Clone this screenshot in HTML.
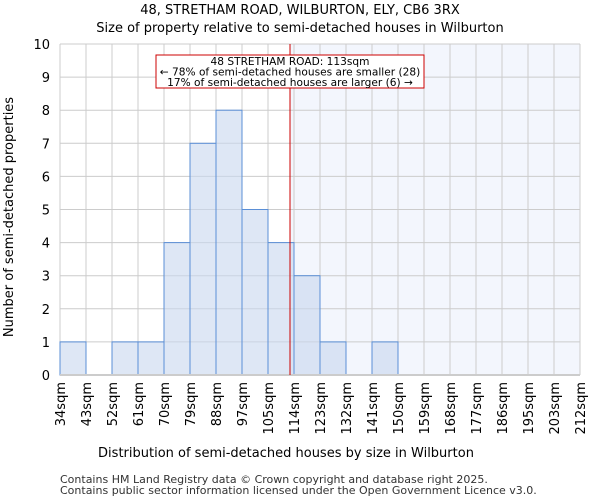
<!DOCTYPE html>
<html><head><meta charset="utf-8"><style>
body{margin:0;background:#fff;font-family:"DejaVu Sans","Liberation Sans",sans-serif}
</style></head><body>
<svg width="600" height="500" xmlns="http://www.w3.org/2000/svg" font-family="DejaVu Sans, Liberation Sans, sans-serif">
<text x="300" y="14" text-anchor="middle" font-size="13">48, STRETHAM ROAD, WILBURTON, ELY, CB6 3RX</text>
<text x="300" y="32" text-anchor="middle" font-size="13">Size of property relative to semi-detached houses in Wilburton</text>
<g id="plot"></g>
<text x="286" y="457" text-anchor="middle" font-size="13">Distribution of semi-detached houses by size in Wilburton</text>
<text transform="translate(13,217) rotate(-90)" text-anchor="middle" font-size="13">Number of semi-detached properties</text>
<text x="60" y="483" font-size="11" fill="#333">Contains HM Land Registry data © Crown copyright and database right 2025.</text>
<text x="60" y="494" font-size="11" fill="#333">Contains public sector information licensed under the Open Government Licence v3.0.</text>
</svg>
<script>
const binLabels=["34sqm","43sqm","52sqm","61sqm","70sqm","79sqm","88sqm","97sqm","105sqm","114sqm","123sqm","132sqm","141sqm","150sqm","159sqm","168sqm","177sqm","186sqm","195sqm","203sqm","212sqm"];
const counts=[1,0,1,1,4,7,8,5,4,3,1,0,1,0,0,0,0,0,0,0];
const yTicks=[0,1,2,3,4,5,6,7,8,9,10];
const propertyBin=9.0;
const NS="http://www.w3.org/2000/svg";
const L=60,R=580,T=44,B=375,nb=counts.length;
const xs=i=>L+(R-L)*i/nb;
const ys=v=>B-(B-T)*v/10;
const g=document.getElementById('plot');
function mk(t,a,p){const e=document.createElementNS(NS,t);for(const k in a)e.setAttribute(k,a[k]);(p||g).appendChild(e);return e;}
const px=xs(propertyBin)-4;
let sh=mk('rect',{x:px,y:T,width:R-px,height:B-T,fill:'#f3f6fd'});


yTicks.forEach(v=>{
 let l=mk('line',{x1:L,x2:R,y1:ys(v),y2:ys(v),stroke:'#ccc'});
 
 
 let t=mk('text',{x:L-10,y:ys(v)+5,'text-anchor':'end','font-size':13});
 t.textContent=v;
 
 
});
binLabels.forEach((s,i)=>{
 let l=mk('line',{x1:xs(i),x2:xs(i),y1:T,y2:B,stroke:'#ccc'});
 
 
 let t=mk('text',{transform:`translate(${xs(i)+5},382) rotate(-90)`,'text-anchor':'end','font-size':13});
 t.textContent=s;
 
 
});
counts.forEach((c,i)=>{
 if(!c)return;
 let r=mk('rect',{x:xs(i),y:ys(c),width:xs(i+1)-xs(i),height:B-ys(c),fill:'rgba(200,215,238,0.6)',stroke:'#5b8fd6','stroke-width':1});
 
 
});
let ax=mk('line',{x1:L,x2:R,y1:B,y2:B,stroke:'#ccc','stroke-width':2});


let rl=mk('line',{x1:px,x2:px,y1:T,y2:B,stroke:'#c00','stroke-width':1});


let bx=mk('rect',{x:156,y:55,width:268,height:33,fill:'#fff',stroke:'#c00'});


["48 STRETHAM ROAD: 113sqm","← 78% of semi-detached houses are smaller (28)","17% of semi-detached houses are larger (6) →"].forEach((s,i)=>{
 let t=mk('text',{x:290,y:65+i*10.5,'text-anchor':'middle','font-size':10.6});
 t.textContent=s;
 
 
});
</script>
</body></html>
